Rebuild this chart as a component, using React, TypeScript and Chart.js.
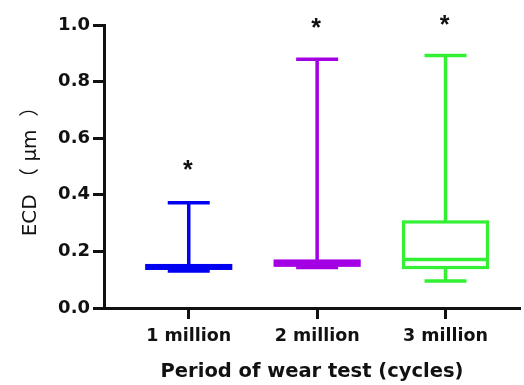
import { useEffect, useRef } from "react";
import { Chart, registerables } from "chart.js";

Chart.register(...registerables);

const categories = ["1 million", "2 million", "3 million"];
const minValues = [0.131, 0.143, 0.095];
const q1Values = [0.14, 0.151, 0.143];
const medianValues = [0.145, 0.158, 0.171];
const q3Values = [0.15, 0.166, 0.304];
const maxValues = [0.372, 0.879, 0.892];
const starValues = [0.505, 1.006, 1.019];
const yTicks = [0, 0.2, 0.4, 0.6, 0.8, 1.0];
const xTicks = [1, 2, 3];

const palette = ["#0000F2", "#A400E4", "#33F033"];

const boxPlugin = {
  id: "boxWhiskers",
  afterDatasetsDraw(chart: any) {
    const { ctx } = chart;
    const x = chart.scales.x;
    const y = chart.scales.y;
    const boxW = 0.654;
    const capW = 0.327;
    categories.forEach((_, i) => {
      const c = xTicks[i];
      const cx = x.getPixelForValue(c);
      const bl = x.getPixelForValue(c - boxW / 2);
      const br = x.getPixelForValue(c + boxW / 2);
      const cl = x.getPixelForValue(c - capW / 2);
      const cr = x.getPixelForValue(c + capW / 2);
      const pMin = y.getPixelForValue(minValues[i]);
      const pQ1 = y.getPixelForValue(q1Values[i]);
      const pMed = y.getPixelForValue(medianValues[i]);
      const pQ3 = y.getPixelForValue(q3Values[i]);
      const pMax = y.getPixelForValue(maxValues[i]);
      ctx.save();
      ctx.strokeStyle = palette[i];
      ctx.lineWidth = 3.5;
      ctx.lineCap = "butt";
      ctx.beginPath();
      ctx.moveTo(cx, pQ3);
      ctx.lineTo(cx, pMax);
      ctx.moveTo(cl, pMax);
      ctx.lineTo(cr, pMax);
      ctx.moveTo(cx, pQ1);
      ctx.lineTo(cx, pMin);
      ctx.moveTo(cl, pMin);
      ctx.lineTo(cr, pMin);
      ctx.moveTo(bl, pMed);
      ctx.lineTo(br, pMed);
      ctx.stroke();
      ctx.lineWidth = 3.2;
      ctx.strokeRect(bl, pQ3, br - bl, pQ1 - pQ3);
      ctx.restore();

      ctx.save();
      ctx.fillStyle = "#111";
      ctx.font = "bold 25px 'Liberation Sans'";
      ctx.textAlign = "center";
      ctx.textBaseline = "alphabetic";
      const m = ctx.measureText("*");
      const mid = (m.actualBoundingBoxAscent - m.actualBoundingBoxDescent) / 2;
      ctx.fillText("*", cx - 1, y.getPixelForValue(starValues[i]) + mid);
      ctx.restore();
    });
  },
};

export default function App() {
  const ref = useRef<HTMLCanvasElement | null>(null);
  useEffect(() => {
    document.body.style.margin = "0";
    if (!ref.current) return;
    const chart = new Chart(ref.current, {
      type: "scatter",
      data: {
        datasets: [
          {
            data: categories.map((_, i) => ({ x: xTicks[i], y: medianValues[i] })),
            pointRadius: 0,
            showLine: false,
          },
        ],
      },
      options: {
        animation: false,
        responsive: false,
        layout: { padding: { top: 25, right: 4, left: 0, bottom: 0 } },
        plugins: { legend: { display: false }, tooltip: { enabled: false } },
        scales: {
          x: {
            type: "linear",
            min: 0.34,
            max: 3.58,
            afterBuildTicks: (s: any) => {
              s.ticks = xTicks.map((v) => ({ value: v }));
            },
            afterFit: (s: any) => {
              s.height = 77;
            },
            ticks: {
              callback: (v: any) => categories[xTicks.indexOf(Number(v))] ?? "",
              color: "#111",
              font: { family: "'DejaVu Sans'", size: 17.5, weight: "bold" },
              padding: 7,
              maxRotation: 0,
              autoSkip: false,
            },
            grid: {
              display: true,
              drawOnChartArea: false,
              drawTicks: true,
              tickLength: 11,
              tickWidth: 3,
              color: "#111",
            },
            border: { display: true, color: "#111", width: 3 },
            title: {
              display: true,
              text: "Period of wear test (cycles)",
              color: "#111",
              font: { family: "'DejaVu Sans'", size: 19.5, weight: "bold" },
              padding: { top: 0, bottom: 1 },
            },
          },
          y: {
            min: 0,
            max: 1,
            afterBuildTicks: (s: any) => {
              s.ticks = yTicks.map((v) => ({ value: v }));
            },
            afterFit: (s: any) => {
              s.width = 104;
            },
            ticks: {
              callback: (v: any) => Number(v).toFixed(1),
              color: "#111",
              font: { family: "'DejaVu Sans'", size: 18, weight: "bold" },
              padding: 3,
            },
            grid: {
              display: true,
              drawOnChartArea: false,
              drawTicks: true,
              tickLength: 11,
              tickWidth: 3,
              color: "#111",
            },
            border: { display: true, color: "#111", width: 3 },
            title: {
              display: true,
              text: "ECD （ μm  ）",
              color: "#111",
              font: { family: "'DejaVu Sans', 'Noto Sans CJK SC'", size: 20, weight: "normal" },
              padding: { top: 19, bottom: 0 },
            },
          },
        },
      },
      plugins: [boxPlugin],
    });
    return () => chart.destroy();
  }, []);
  return <canvas ref={ref} width={524} height={385} />;
}
